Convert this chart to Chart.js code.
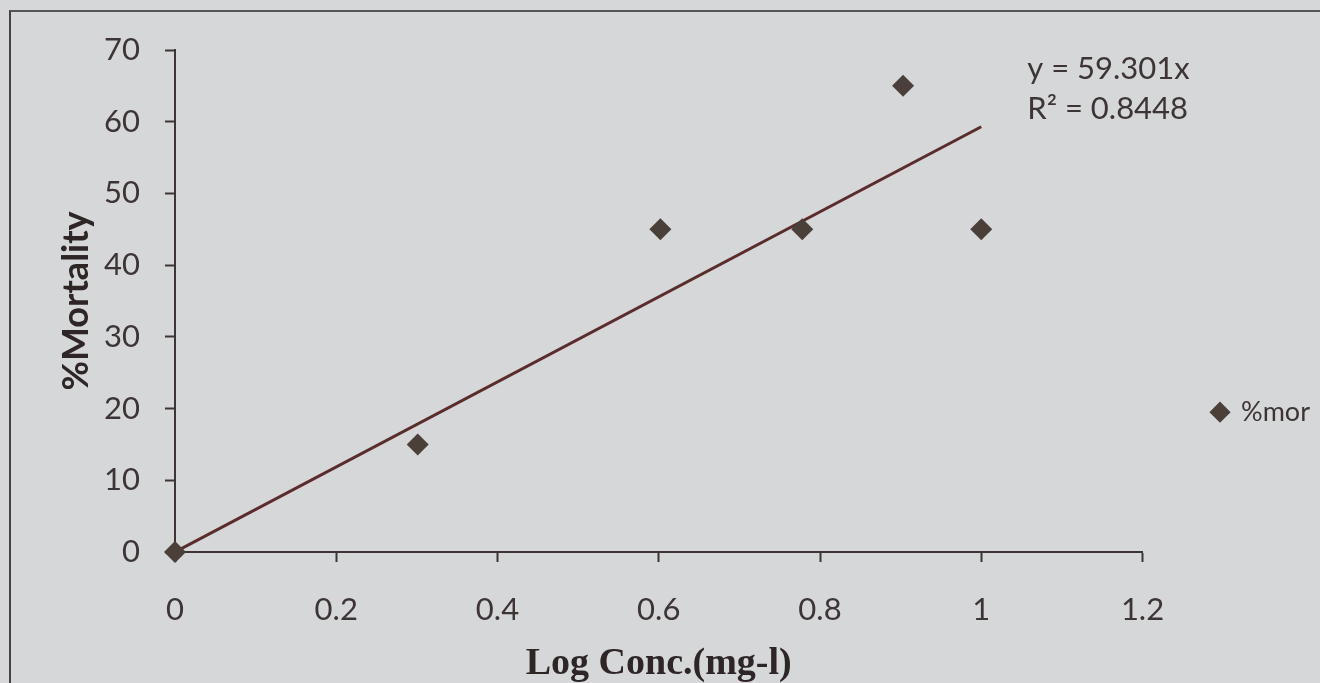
<!DOCTYPE html>
<html>
<head>
<meta charset="utf-8">
<title>Mortality</title>
<script src="https://cdn.jsdelivr.net/npm/chart.js@4.4.1/dist/chart.umd.min.js"></script>
<style>
  body{
    margin: 0;
    background-color: #d6d7d9;
  }
  #frame{
    position: absolute;
    left: 9px;
    top: 10px;
    width: 1320px;
    height: 700px;
    border-top: 2px solid #555;
    border-left: 2px solid #4a4040;
  }
  #myChart{
    position: absolute;
    left: 0;
    top: 0;
  }
</style>
</head>
<body>
<div id="frame"></div>
<canvas id="myChart" width="1320" height="683"></canvas>

<script>
// data
const logConc = [0, 0.301, 0.602, 0.778, 0.903, 1.0];
const mortality = [0, 15, 45, 45, 65, 45];
const trendX = [0, 1.0];
const trendY = [0, 59.301];
const eqLines = ['y = 59.301x', 'R\u00B2 = 0.8448'];

const ink = '#3d3535';
const markColor = '#4b3f3a';

const points = logConc.map((x, i) => ({x: x, y: mortality[i]}));
const trend = trendX.map((x, i) => ({x: x, y: trendY[i]}));

// equation text next to the trend line
const equationLabel = {
  id: 'equationLabel',
  afterDatasetsDraw(chart){
    const {ctx, scales} = chart;
    ctx.save();
    ctx.font = '31px Lato';
    ctx.fillStyle = ink;
    ctx.textAlign = 'left';
    ctx.textBaseline = 'middle';
    ctx.fillText(eqLines[0], scales.x.getPixelForValue(1.057), scales.y.getPixelForValue(67.4));
    ctx.fillText(eqLines[1], scales.x.getPixelForValue(1.057), scales.y.getPixelForValue(61.8));
    ctx.restore();
  }
};

const config = {
  type: 'scatter',
  data: {
    datasets: [
      {
        label: '%mor',
        data: points,
        pointStyle: 'rectRot',
        pointRadius: 11,
        backgroundColor: markColor,
        borderColor: markColor,
        borderWidth: 0,
        clip: false
      },
      {
        label: 'trend',
        type: 'line',
        data: trend,
        borderColor: '#5a2c2c',
        borderWidth: 3,
        pointRadius: 0,
        fill: false
      }
    ]
  },
  options: {
    responsive: false,
    animation: false,
    layout: {
      padding: {top: 50, left: 10, right: 0, bottom: 0}
    },
    plugins: {
      tooltip: {enabled: false},
      legend: {
        position: 'right',
        title: {
          display: true,
          text: '',
          padding: {top: 77, bottom: 0}
        },
        labels: {
          filter: (item) => item.text === '%mor',
          usePointStyle: true,
          pointStyle: 'rectRot',
          boxWidth: 15,
          boxHeight: 15,
          padding: 70,
          color: ink,
          font: {family: 'Lato', size: 27}
        }
      }
    },
    scales: {
      x: {
        type: 'linear',
        min: 0,
        max: 1.2,
        afterFit: (scale) => { scale.height = 131; },
        ticks: {
          stepSize: 0.2,
          padding: 29,
          color: ink,
          font: {family: 'Lato', size: 31},
          callback: (v) => String(Math.round(v * 10) / 10)
        },
        grid: {
          drawOnChartArea: false,
          tickLength: 10,
          tickWidth: 2,
          color: ink
        },
        border: {color: ink, width: 2},
        title: {
          display: true,
          text: 'Log Conc.(mg-l)',
          color: '#2e2626',
          padding: {top: 17, bottom: 0},
          font: {family: 'Liberation Serif', size: 38, weight: 'bold', lineHeight: 1}
        }
      },
      y: {
        min: 0,
        max: 70,
        afterFit: (scale) => { scale.width = 165; },
        ticks: {
          stepSize: 10,
          padding: 25,
          color: ink,
          font: {family: 'Lato', size: 31}
        },
        grid: {
          drawOnChartArea: false,
          tickLength: 10,
          tickWidth: 2,
          color: ink
        },
        border: {color: ink, width: 2},
        title: {
          display: true,
          text: '%Mortality',
          color: '#2e2626',
          padding: {top: 48, bottom: 12},
          font: {family: 'Lato', size: 36, weight: 'bold', lineHeight: 1}
        }
      }
    }
  },
  plugins: [equationLabel]
};

const myChart = new Chart(document.getElementById('myChart'), config);
</script>
</body>
</html>
